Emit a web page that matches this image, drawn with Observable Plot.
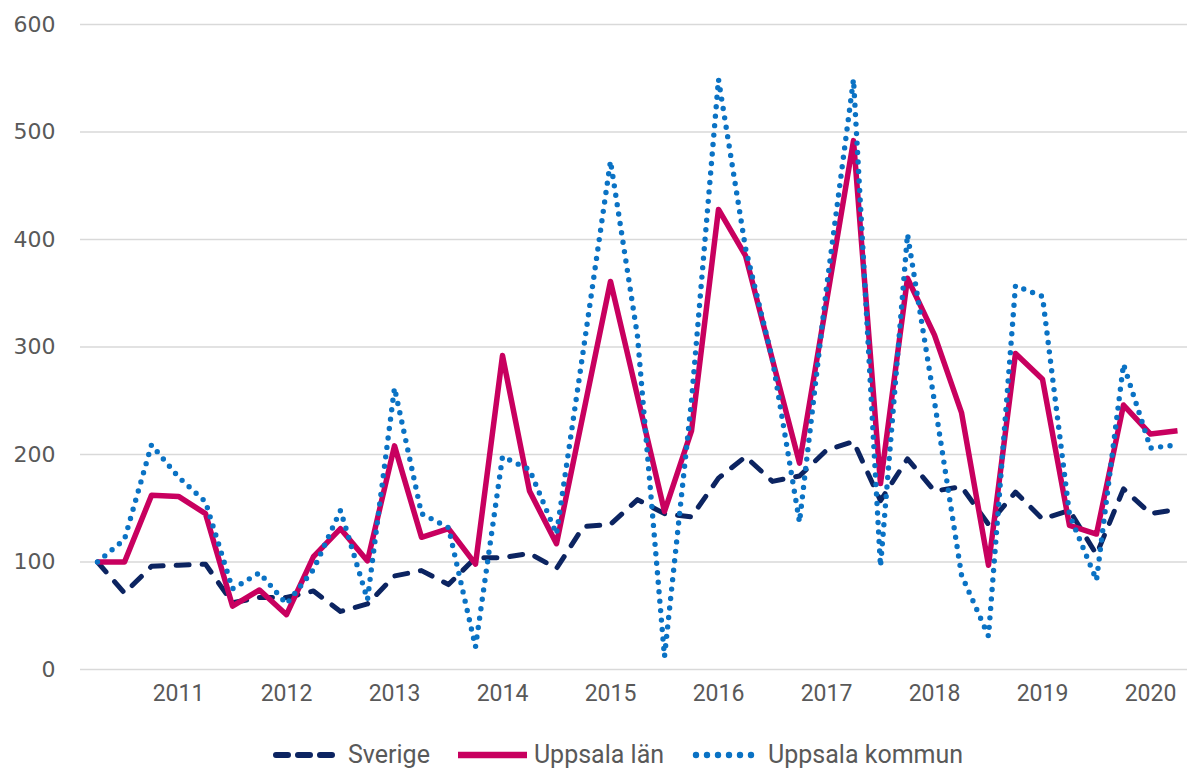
<!DOCTYPE html>
<html>
<head>
<meta charset="utf-8">
<script src="https://cdn.jsdelivr.net/npm/d3@7"></script>
<script src="https://cdn.jsdelivr.net/npm/@observablehq/plot@0.6"></script>
<style>
  html, body { margin: 0; padding: 0; background: #ffffff; }
  #wrap { position: relative; width: 1187px; height: 768px; }
  #legend {
    position: absolute; left: 272px; top: 740px;
    display: flex; align-items: center;
    font-family: "Liberation Sans Narrow", "Roboto", sans-serif;
    font-size: 25px; color: #595959;
  }
  .item { display: flex; align-items: center; margin-right: 28px; }
  .item svg { margin-right: 4px; }
</style>
</head>
<body>
<div id="wrap">
  <div id="chart"></div>
  <div id="legend"></div>
</div>
<script>
const quarters = [
  "2010K2","2010K3","2010K4",
  "2011K1","2011K2","2011K3","2011K4",
  "2012K1","2012K2","2012K3","2012K4",
  "2013K1","2013K2","2013K3","2013K4",
  "2014K1","2014K2","2014K3","2014K4",
  "2015K1","2015K2","2015K3","2015K4",
  "2016K1","2016K2","2016K3","2016K4",
  "2017K1","2017K2","2017K3","2017K4",
  "2018K1","2018K2","2018K3","2018K4",
  "2019K1","2019K2","2019K3","2019K4",
  "2020K1","2020K2"
];
const tickQuarters = ["2011K1","2012K1","2013K1","2014K1","2015K1","2016K1","2017K1","2018K1","2019K1","2020K1"];
const tickYears = ["2011","2012","2013","2014","2015","2016","2017","2018","2019","2020"];
const yTicks = [0, 100, 200, 300, 400, 500, 600];

const sverige = [100,71,96,97,98,62,67,67,73,54,61,87,92,79,104,104,108,94,133,135,158,145,142,178,198,175,180,204,212,157,196,166,170,135,165,140,148,107,168,145,149];
const uppsalaLan = [100,100,162,161,145,59,74,51,105,131,101,208,123,131,98,292,166,117,239,361,254,147,222,428,385,288,192,342,492,173,364,311,239,97,294,270,134,126,246,219,222];
const uppsalaKommun = [100,121,209,179,156,75,90,61,93,148,65,262,145,132,21,198,186,126,298,473,310,12,250,549,392,288,137,355,549,96,405,249,88,31,357,347,144,83,284,206,209];

const seriesNames = ["Sverige", "Uppsala län", "Uppsala kommun"];
const seriesValues = [sverige, uppsalaLan, uppsalaKommun];
const seriesStyle = {
  "Sverige": {stroke: "#0c2461", strokeWidth: 5, dash: "13 13", cap: "round", legendDash: "12 10"},
  "Uppsala län": {stroke: "#c8005f", strokeWidth: 5.5, dash: null, cap: "butt", legendDash: null},
  "Uppsala kommun": {stroke: "#0a72c4", strokeWidth: 5.4, dash: "0 9.5", cap: "round", legendDash: "0 11"}
};

const rows = seriesNames.flatMap((name, s) =>
  quarters.map((q, i) => ({series: name, quarter: q, value: seriesValues[s][i]})));

const yearOf = new Map(tickQuarters.map((q, i) => [q, tickYears[i]]));

const lineMarks = seriesNames.map(name => {
  const st = seriesStyle[name];
  return Plot.line(rows.filter(d => d.series === name), {
    x: "quarter", y: "value",
    stroke: st.stroke, strokeWidth: st.strokeWidth,
    strokeDasharray: st.dash, strokeLinecap: st.cap, strokeLinejoin: "round"
  });
});

const chart = Plot.plot({
  width: 1187, height: 720,
  marginLeft: 80, marginRight: 0, marginTop: 24, marginBottom: 51,
  style: {background: "#ffffff"},
  x: {type: "point", domain: quarters, padding: 0, insetLeft: 12.5, insetRight: 6.5},
  y: {domain: [0, 600]},
  marks: [
    Plot.gridY(yTicks, {stroke: "#d9d9d9", strokeOpacity: 1, strokeWidth: 1.6}),
    Plot.axisY(yTicks, {tickSize: 0, tickPadding: 25, fontSize: 22, fontFamily: "DejaVu Sans", fill: "#595959", label: null}),
    Plot.axisX(tickQuarters, {tickSize: 0, tickPadding: 15, fontSize: 23, fontFamily: "Liberation Sans Narrow, Roboto, sans-serif", fill: "#595959", label: null, tickFormat: q => yearOf.get(q)}),
    ...lineMarks
  ]
});
document.getElementById("chart").appendChild(chart);

const legend = document.getElementById("legend");
seriesNames.forEach(name => {
  const st = seriesStyle[name];
  const item = document.createElement("div");
  item.className = "item";
  const ns = "http://www.w3.org/2000/svg";
  const svg = document.createElementNS(ns, "svg");
  svg.setAttribute("width", "72");
  svg.setAttribute("height", "20");
  const ln = document.createElementNS(ns, "line");
  ln.setAttribute("x1", st.cap === "round" ? "4" : "0");
  ln.setAttribute("x2", "69");
  ln.setAttribute("y1", "10");
  ln.setAttribute("y2", "10");
  ln.setAttribute("stroke", st.stroke);
  ln.setAttribute("stroke-width", st.strokeWidth + 1);
  ln.setAttribute("stroke-linecap", st.cap);
  if (st.legendDash) ln.setAttribute("stroke-dasharray", st.legendDash);
  svg.appendChild(ln);
  item.appendChild(svg);
  const label = document.createElement("span");
  label.textContent = name;
  item.appendChild(label);
  legend.appendChild(item);
});
</script>
</body>
</html>
